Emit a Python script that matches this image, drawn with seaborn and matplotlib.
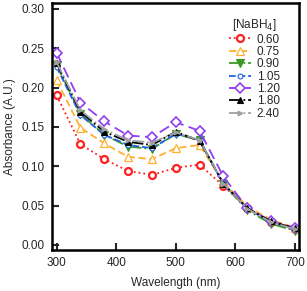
import numpy as np
import pandas as pd
import matplotlib
matplotlib.use('Agg')
import matplotlib.pyplot as plt
import seaborn as sns

# 파장 및 흡광도 데이터
wavelength = [300, 340, 380, 420, 460, 500, 540, 580, 620, 660, 700]
conc_labels = ['0.60', '0.75', '0.90', '1.05', '1.20', '1.80', '2.40']

abs_060 = [0.190, 0.128, 0.109, 0.094, 0.089, 0.098, 0.102, 0.075, 0.047, 0.029, 0.020]
abs_075 = [0.209, 0.149, 0.129, 0.112, 0.109, 0.123, 0.127, 0.080, 0.049, 0.032, 0.022]
abs_090 = [0.229, 0.166, 0.140, 0.125, 0.122, 0.141, 0.133, 0.078, 0.044, 0.027, 0.018]
abs_105 = [0.226, 0.165, 0.140, 0.127, 0.123, 0.141, 0.134, 0.077, 0.046, 0.029, 0.020]
abs_120 = [0.244, 0.181, 0.157, 0.139, 0.137, 0.156, 0.145, 0.087, 0.047, 0.030, 0.022]
abs_180 = [0.231, 0.169, 0.144, 0.131, 0.127, 0.144, 0.132, 0.078, 0.047, 0.030, 0.021]
abs_240 = [0.232, 0.171, 0.147, 0.133, 0.130, 0.143, 0.133, 0.078, 0.046, 0.029, 0.020]

series = [abs_060, abs_075, abs_090, abs_105, abs_120, abs_180, abs_240]

styles = [
    dict(color='#ff2020', ls=':', marker='o', mfc='white', ms=5, mew=1.6),
    dict(color='#ffb030', ls=(0, (4, 2)), marker='^', mfc='white', ms=5.5, mew=0.9),
    dict(color='#3a9a20', ls='-.', marker='v', mfc='#3a9a20', ms=5.5, mew=0.8),
    dict(color='#2060e0', ls='--', marker='o', mfc='white', ms=3.5, mew=0.8),
    dict(color='#9040ee', ls=(0, (6, 3)), marker='D', mfc='white', ms=5, mew=1.2),
    dict(color='#000000', ls='-.', marker='^', mfc='#000000', ms=4.5, mew=0.8),
    dict(color='#a0a0a0', ls='-.', marker='>', mfc='#a0a0a0', ms=3.5, mew=0.8),
]

df = pd.DataFrame({'Wavelength': wavelength * len(series),
                   'Absorbance': np.concatenate(series),
                   'conc': np.repeat(conc_labels, len(wavelength))})

sns.set_style('ticks')
plt.rcParams['font.family'] = ['Liberation Sans', 'DejaVu Sans']

fig = plt.figure(figsize=(3.07, 2.91), dpi=100)
ax = fig.add_axes([0.169, 0.141, 0.805, 0.849])

for lab, st in zip(conc_labels, styles):
    sub = df[df['conc'] == lab]
    sns.lineplot(data=sub, x='Wavelength', y='Absorbance', ax=ax, label=lab,
                 color=st['color'], linestyle=st['ls'], linewidth=1.3,
                 marker=st['marker'], markersize=st['ms'],
                 markerfacecolor=st['mfc'], markeredgecolor=st['color'],
                 markeredgewidth=st['mew'])

ax.set_xlim(292, 707)
ax.set_ylim(-0.0064, 0.3076)
ax.set_xticks([300, 400, 500, 600, 700])
ax.set_yticks(np.arange(0, 0.31, 0.05))
ax.yaxis.set_major_formatter(matplotlib.ticker.FormatStrFormatter('%.2f'))
ax.set_xlabel('Wavelength (nm)', fontsize=8.5, labelpad=6)
ax.set_ylabel('Absorbance (A.U.)', fontsize=8.5, labelpad=4)
ax.tick_params(direction='in', length=5, width=1.5, labelsize=8.5, pad=5)
for sp in ax.spines.values():
    sp.set_visible(True)
    sp.set_linewidth(1.8)
    sp.set_color('black')

leg = ax.legend(title='[NaBH$_4$]', frameon=False, fontsize=8.5, title_fontsize=8.5,
                loc='upper right', bbox_to_anchor=(0.965, 0.985),
                handlelength=1.8, handletextpad=0.5, labelspacing=0.03)

fig.savefig('out.png', dpi=100)
